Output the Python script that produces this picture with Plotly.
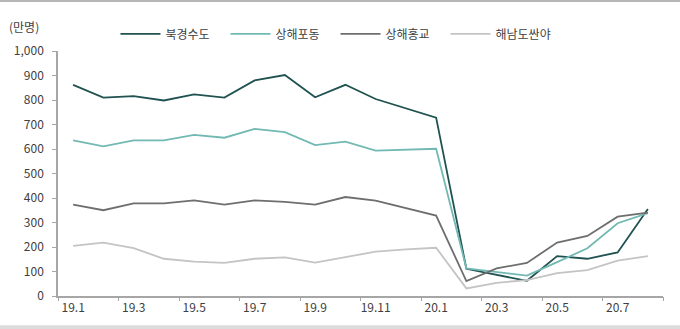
import plotly.graph_objects as go

months = ["19.1","19.2","19.3","19.4","19.5","19.6","19.7","19.8","19.9","19.10","19.11","19.12",
          "20.1","20.2","20.3","20.4","20.5","20.6","20.7","20.8"]
tick_labels = ["19.1","19.3","19.5","19.7","19.9","19.11","20.1","20.3","20.5","20.7"]

beijing = [862, 810, 816, 798, 823, 810, 880, 902, 811, 862, 804, 767, 728, 111, 88, 62, 163, 152, 178, 355]
pudong = [635, 611, 635, 635, 658, 646, 682, 669, 616, 630, 593, 596, 601, 113, 97, 83, 138, 195, 297, 338]
hongqiao = [373, 350, 378, 378, 390, 373, 390, 384, 373, 404, 389, 360, 328, 61, 113, 135, 218, 245, 324, 340]
sanya = [205, 218, 195, 152, 140, 135, 152, 158, 136, 160, 181, 190, 197, 31, 54, 65, 93, 106, 144, 163]

names = ["북경수도", "상해포동", "상해홍교", "해남도싼야"]
colors = ["#1f5250", "#72b9b3", "#6e6e6e", "#c4c4c4"]
series = [beijing, pudong, hongqiao, sanya]

FONT = "Noto Sans CJK KR"
x_idx = list(range(len(months)))

fig = go.Figure()
for name, col, vals in zip(names, colors, series):
    fig.add_trace(go.Scatter(x=x_idx, y=vals, name=name, mode="lines",
                             line=dict(color=col, width=1.8)))

# invisible trace on secondary x axis to draw boundary ticks
fig.add_trace(go.Scatter(x=[-0.5, 19.5], y=[0, 0], xaxis="x2", mode="lines",
                         line=dict(width=0), showlegend=False, hoverinfo="skip"))

fig.update_layout(
    width=680, height=329,
    margin=dict(l=58, r=17, t=51, b=33),
    plot_bgcolor="white", paper_bgcolor="white",
    font=dict(family=FONT, size=12, color="#404040"),
    showlegend=True,
    legend=dict(orientation="h", x=0.095, y=1.07, xanchor="left", yanchor="middle",
                font=dict(size=12, color="#404040"), itemwidth=40,
                entrywidth=55, entrywidthmode="pixels", bgcolor="rgba(0,0,0,0)"),
    xaxis=dict(range=[-0.5, 19.5], tickvals=x_idx[::2], ticktext=tick_labels,
               showgrid=False, zeroline=False, showline=True, linecolor="#a6a6a6",
               linewidth=1.5, ticks="", tickfont=dict(size=12, color="#404040")),
    xaxis2=dict(range=[-0.5, 19.5], overlaying="x", side="bottom",
                tickvals=[-0.5 + 2 * i for i in range(11)], showticklabels=False,
                ticks="outside", ticklen=4, tickcolor="#a6a6a6", tickwidth=1.2,
                showgrid=False, zeroline=False, showline=False, anchor="y"),
    yaxis=dict(range=[0, 1000], tickvals=list(range(0, 1001, 100)),
               tickformat=",d", showgrid=False, zeroline=False, showline=True,
               linecolor="#a6a6a6", linewidth=1.5, ticks="outside", ticklen=4,
               tickcolor="#a6a6a6", tickwidth=1.2, ticklabelstandoff=6,
               tickfont=dict(size=12, color="#404040")),
    annotations=[dict(text="(만명)", xref="paper", yref="paper", x=-0.085, y=1.1,
                      xanchor="left", yanchor="middle", showarrow=False,
                      font=dict(size=12, color="#404040"))],
    shapes=[
        dict(type="line", xref="paper", yref="paper", x0=-0.1, x1=1.03, y0=1.204, y1=1.204,
             line=dict(color="#b5b5b5", width=2)),
        dict(type="line", xref="paper", yref="paper", x0=-0.1, x1=1.03, y0=-0.128, y1=-0.128,
             line=dict(color="#dcdcdc", width=4)),
    ],
)

fig.write_html("out.html")
